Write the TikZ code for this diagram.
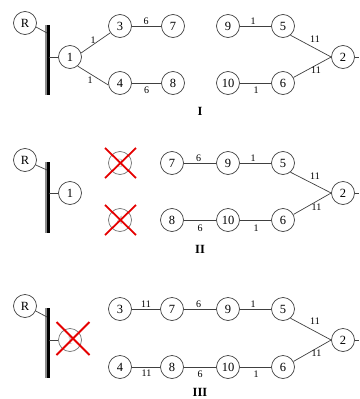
\documentclass[tikz,border=0pt]{standalone}
\usepackage{fontspec}
\setmainfont{Liberation Serif}
\begin{document}
\begin{tikzpicture}[x=1pt,y=-1pt,
  nd/.style={circle,draw=black!75,line width=0.7pt,minimum size=23pt,inner sep=0pt,font=\fontsize{12.5}{12.5}\selectfont},
  deadnd/.style={nd,draw=black!55,text=black!30},
  lbl/.style={inner sep=0pt,font=\fontsize{10}{10}\selectfont},
  roman/.style={inner sep=0pt,font=\fontsize{12.5}{12.5}\selectfont\bfseries},
  con/.style={draw=black!75,line width=0.7pt},
  xmark/.style={draw=red!90!black,line width=1.8pt},
  barblack/.style={draw=black,line width=3.4pt},
  bargray/.style={draw=black!45,line width=1.4pt}]
\useasboundingbox (0,0) rectangle (359,399);

% ================= Panel I =================
\coordinate (bt1) at (48,25); \coordinate (bb1) at (48,95);
\draw[bargray] ([xshift=-2.2pt]bt1) -- ([xshift=-2.2pt]bb1);
\draw[barblack] ([xshift=0.6pt]bt1) -- ([xshift=0.6pt]bb1);
\node[nd] (R1) at (25,23) {R};
\node[nd] (n1a) at (70,57) {1};
\node[nd] (n3a) at (120,26) {3};
\node[nd] (n7a) at (173,26) {7};
\node[nd] (n4a) at (120,83) {4};
\node[nd] (n8a) at (173,83) {8};
\node[nd] (n9a) at (228,26) {9};
\node[nd] (n5a) at (283,26) {5};
\node[nd] (n10a) at (228,83) {10};
\node[nd] (n6a) at (283,83) {6};
\node[nd] (n2a) at (343,57) {2};
\coordinate (rb1) at (47,33);
\coordinate (ob1) at (49,57);
\coordinate (end1) at (359,57);
\draw[con] (R1.-20) -- (rb1);
\draw[con] (ob1) -- (n1a.west);
\draw[con] (n1a.20) -- (n3a.215) node[lbl] (la1) at (93,40) {1};
\draw[con] (n1a.-50) -- (n4a.190) node[lbl] (la2) at (90,80) {1};
\draw[con] (n3a) -- (n7a) node[lbl] (la3) at (146,21.5) {6};
\draw[con] (n4a) -- (n8a) node[lbl] (la4) at (146.5,90.5) {6};
\draw[con] (n9a) -- (n5a) node[lbl] (la5) at (253,21.5) {1};
\draw[con] (n10a) -- (n6a) node[lbl] (la6) at (256,90) {1};
\draw[con] (n5a.-51) -- (n2a.west) node[lbl] (la7) at (315,39.5) {11};
\draw[con] (n6a.28) -- (n2a.west) node[lbl] (la8) at (316,70) {11};
\draw[con] (n2a.east) -- (end1);
\node[roman] (rI) at (200,111) {I};

% ================= Panel II =================
\coordinate (bt2) at (48,162); \coordinate (bb2) at (48,233);
\draw[bargray] ([xshift=-2.2pt]bt2) -- ([xshift=-2.2pt]bb2);
\draw[barblack] ([xshift=0.6pt]bt2) -- ([xshift=0.6pt]bb2);
\node[nd] (R2) at (25,160) {R};
\node[nd] (n1b) at (70,193) {1};
\node[deadnd] (n3b) at (120,163) {3};
\node[deadnd] (n4b) at (120,220) {4};
\node[nd] (n7b) at (172,163) {7};
\node[nd] (n8b) at (172,220) {8};
\node[nd] (n9b) at (228,163) {9};
\node[nd] (n5b) at (283,163) {5};
\node[nd] (n10b) at (228,220) {10};
\node[nd] (n6b) at (283,220) {6};
\node[nd] (n2b) at (343,193) {2};
\coordinate (rb2) at (47,170);
\coordinate (ob2) at (49,193);
\coordinate (end2) at (359,193);
\draw[con] (R2.-25) -- (rb2);
\draw[con] (ob2) -- (n1b.west);
\draw[xmark] ([shift={(-15,-15)}]n3b.center) -- ([shift={(16,15)}]n3b.center);
\draw[xmark] ([shift={(-15,15)}]n3b.center) -- ([shift={(16,-15)}]n3b.center);
\draw[xmark] ([shift={(-15,-15)}]n4b.center) -- ([shift={(16,15)}]n4b.center);
\draw[xmark] ([shift={(-15,15)}]n4b.center) -- ([shift={(16,-15)}]n4b.center);
\draw[con] (n7b) -- (n9b) node[lbl] (lb1) at (198.5,158) {6};
\draw[con] (n9b) -- (n5b) node[lbl] (lb2) at (253,158) {1};
\draw[con] (n8b) -- (n10b) node[lbl] (lb3) at (200,228) {6};
\draw[con] (n10b) -- (n6b) node[lbl] (lb4) at (256,228) {1};
\draw[con] (n5b.-51) -- (n2b.west) node[lbl] (lb5) at (315,176.5) {11};
\draw[con] (n6b.28) -- (n2b.west) node[lbl] (lb6) at (316.5,207) {11};
\draw[con] (n2b.east) -- (end2);
\node[roman] (rII) at (200,249) {II};

% ================= Panel III =================
\coordinate (bt3) at (48,308); \coordinate (bb3) at (48,378);
\draw[bargray] ([xshift=-2.2pt]bt3) -- ([xshift=-2.2pt]bb3);
\draw[barblack] ([xshift=0.6pt]bt3) -- ([xshift=0.6pt]bb3);
\node[nd] (R3) at (25,306) {R};
\node[deadnd] (n1c) at (70,340) {1};
\node[nd] (n3c) at (120,309) {3};
\node[nd] (n7c) at (172,309) {7};
\node[nd] (n4c) at (120,367) {4};
\node[nd] (n8c) at (172,367) {8};
\node[nd] (n9c) at (228,309) {9};
\node[nd] (n5c) at (283,309) {5};
\node[nd] (n10c) at (228,367) {10};
\node[nd] (n6c) at (283,367) {6};
\node[nd] (n2c) at (343,340) {2};
\coordinate (rb3) at (47,317);
\coordinate (ob3) at (49,340);
\coordinate (end3) at (359,340);
\draw[con] (R3.-25) -- (rb3);
\draw[con] (ob3) -- (n1c.west);
\draw[xmark] ([shift={(-13.5,-18)}]n1c.center) -- ([shift={(19.5,15)}]n1c.center);
\draw[xmark] ([shift={(-13.5,15)}]n1c.center) -- ([shift={(19.5,-18)}]n1c.center);
\draw[con] (n3c) -- (n7c) node[lbl] (lc1) at (146,304) {11};
\draw[con] (n4c) -- (n8c) node[lbl] (lc2) at (146.5,373) {11};
\draw[con] (n7c) -- (n9c) node[lbl] (lc3) at (198.5,304) {6};
\draw[con] (n9c) -- (n5c) node[lbl] (lc4) at (253,304) {1};
\draw[con] (n8c) -- (n10c) node[lbl] (lc5) at (200,374) {6};
\draw[con] (n10c) -- (n6c) node[lbl] (lc6) at (256,374) {1};
\draw[con] (n5c.-51) -- (n2c.west) node[lbl] (lc7) at (315,321.5) {11};
\draw[con] (n6c.28) -- (n2c.west) node[lbl] (lc8) at (316.5,353) {11};
\draw[con] (n2c.east) -- (end3);
\node[roman] (rIII) at (200,392.5) {III};
\end{tikzpicture}
\end{document}
